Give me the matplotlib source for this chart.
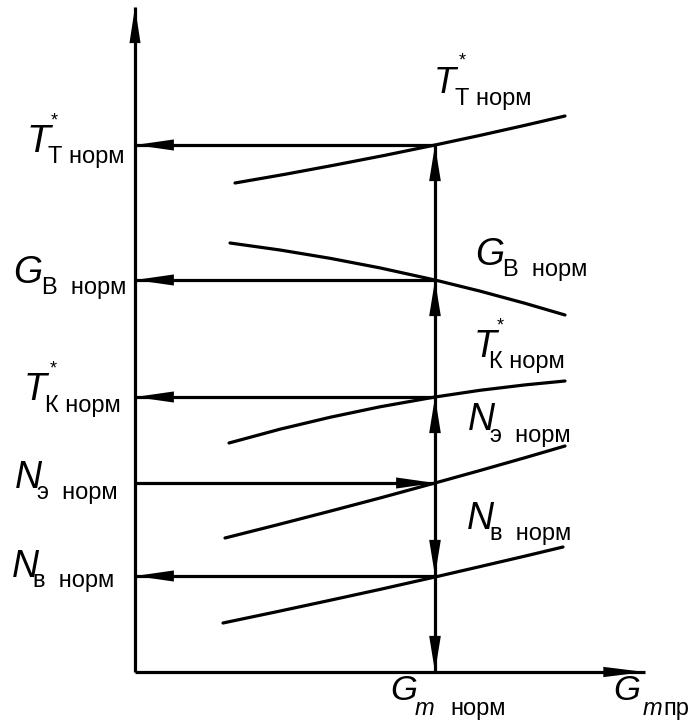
import matplotlib
matplotlib.use("Agg")
import matplotlib.pyplot as plt

# ---- schematic geometry (drawing units = pixels of the 694x727 canvas) ----
x_origin = 135
y_origin = 672
x_norm = 435                     # G_m норм
y_axis_top = 7
x_axis_end = 645

# levels where the curves cross the x_norm vertical
levels = {"TT": 145, "GB": 280, "TK": 397, "NE": 483, "NB": 576}

# curves (x, y)
curve_x_TT = [235, 285, 335, 385, 435, 480, 525, 565]
curve_y_TT = [183, 174.3, 165, 155.3, 145, 135.4, 125.3, 116]
curve_x_GB = [230, 280, 330, 380, 435, 480, 525, 565]
curve_y_GB = [243, 250, 258.3, 267.9, 280, 291.1, 303.3, 315]
curve_x_TK = [229, 280, 330, 380, 435, 480, 525, 565]
curve_y_TK = [443, 429.2, 417.3, 406.8, 397, 390.3, 384.9, 381]
curve_x_NE = [225, 275, 330, 380, 435, 480, 525, 565]
curve_y_NE = [538, 525.4, 511.2, 498, 483, 470.5, 457.7, 446]
curve_x_NB = [223, 275, 330, 380, 435, 480, 525, 563]
curve_y_NB = [623, 612.1, 600.3, 589.4, 577, 566.6, 556.1, 547]

# horizontal arrows: (level, direction) ; 'left' = towards the y axis
h_arrows = [("TT", "left"), ("GB", "left"), ("TK", "left"), ("NE", "right"), ("NB", "left")]
# vertical arrows along x_norm: (from, to)
v_arrows = [(483, 397), (397, 280), (280, 145), (483, 576), (576, 672)]

LW = 2.3
fig = plt.figure(figsize=(6.94, 7.27), dpi=100)
ax = fig.add_axes([0, 0, 1, 1])
ax.set_xlim(0, 694)
ax.set_ylim(727, 0)
ax.axis("off")

def line(xs, ys):
    ax.plot(xs, ys, color="black", lw=LW, solid_capstyle="butt")

def head(x0, y0, x1, y1, hl=2.8, hw=0.4):
    ax.annotate("", xy=(x1, y1), xytext=(x0, y0),
                arrowprops=dict(arrowstyle=f"-|>,head_length={hl},head_width={hw}",
                                mutation_scale=10, lw=0, color="black",
                                shrinkA=0, shrinkB=0))

def arrow(x0, y0, x1, y1, hl=2.8, hw=0.4):
    line([x0, x1], [y0, y1])
    head(x0, y0, x1, y1, hl, hw)

# axes
arrow(x_origin, y_origin, x_origin, y_axis_top, hl=2.6)
arrow(x_origin, y_origin, x_axis_end, y_origin, hl=3.0, hw=0.37)

# curves
for cx, cy in [(curve_x_TT, curve_y_TT), (curve_x_GB, curve_y_GB),
               (curve_x_TK, curve_y_TK), (curve_x_NE, curve_y_NE),
               (curve_x_NB, curve_y_NB)]:
    ax.plot(cx, cy, color="black", lw=LW, solid_capstyle="round",
            solid_joinstyle="round")

# horizontal arrows
for key, d in h_arrows:
    y = levels[key]
    if d == "left":
        arrow(x_norm, y, x_origin, y)
    else:
        arrow(x_origin, y, x_norm, y)

# vertical arrows
for y0, y1 in v_arrows:
    arrow(x_norm, y0, x_norm, y1, hl=2.6, hw=0.42)

FAM = ["Liberation Sans", "DejaVu Sans"]

def label(x, yb, main, sub, star=None, xs=None, ybs=None, ms=27, ss=17):
    ax.text(x, yb, main, fontsize=ms, style="italic", family=FAM,
            ha="left", va="baseline")
    ax.text(xs, ybs, sub, fontsize=ss, family=FAM, ha="left", va="baseline")
    if star is not None:
        ax.text(star[0], star[1], "*", fontsize=13, family=FAM,
                ha="center", va="center")

# left labels
label(27, 152, "T", "Т норм", star=(54, 121), xs=48, ybs=163, ms=28)
label(13, 283, "G", "В  норм", xs=42, ybs=294)
label(24, 400, "T", "К норм", star=(53, 369), xs=45, ybs=412)
label(15, 488, "N", "э  норм", xs=37, ybs=499)
label(12, 577, "N", "в  норм", xs=33, ybs=587)

# right labels
label(434, 93, "T", "Т норм", star=(462, 61), xs=455, ybs=105, ms=26)
label(475, 265, "G", "В  норм", xs=503, ybs=276)
label(474, 357, "T", "К норм", star=(500, 326), xs=489, ybs=368)
label(468, 430, "N", "э  норм", xs=490, ybs=442)
label(467, 529, "N", "в  норм", xs=490, ybs=540)

# bottom labels
ax.text(390, 700, "G", fontsize=25, style="italic", family=FAM, ha="left", va="baseline")
ax.text(415, 715, "m", fontsize=17, style="italic", family=FAM, ha="left", va="baseline")
ax.text(450, 715, "норм", fontsize=17, family=FAM, ha="left", va="baseline")
ax.text(613, 700, "G", fontsize=25, style="italic", family=FAM, ha="left", va="baseline")
ax.text(643, 715, "m", fontsize=17, style="italic", family=FAM, ha="left", va="baseline")
ax.text(663, 715, "пр", fontsize=17, family=FAM, ha="left", va="baseline")

fig.savefig("out.png", dpi=100)
